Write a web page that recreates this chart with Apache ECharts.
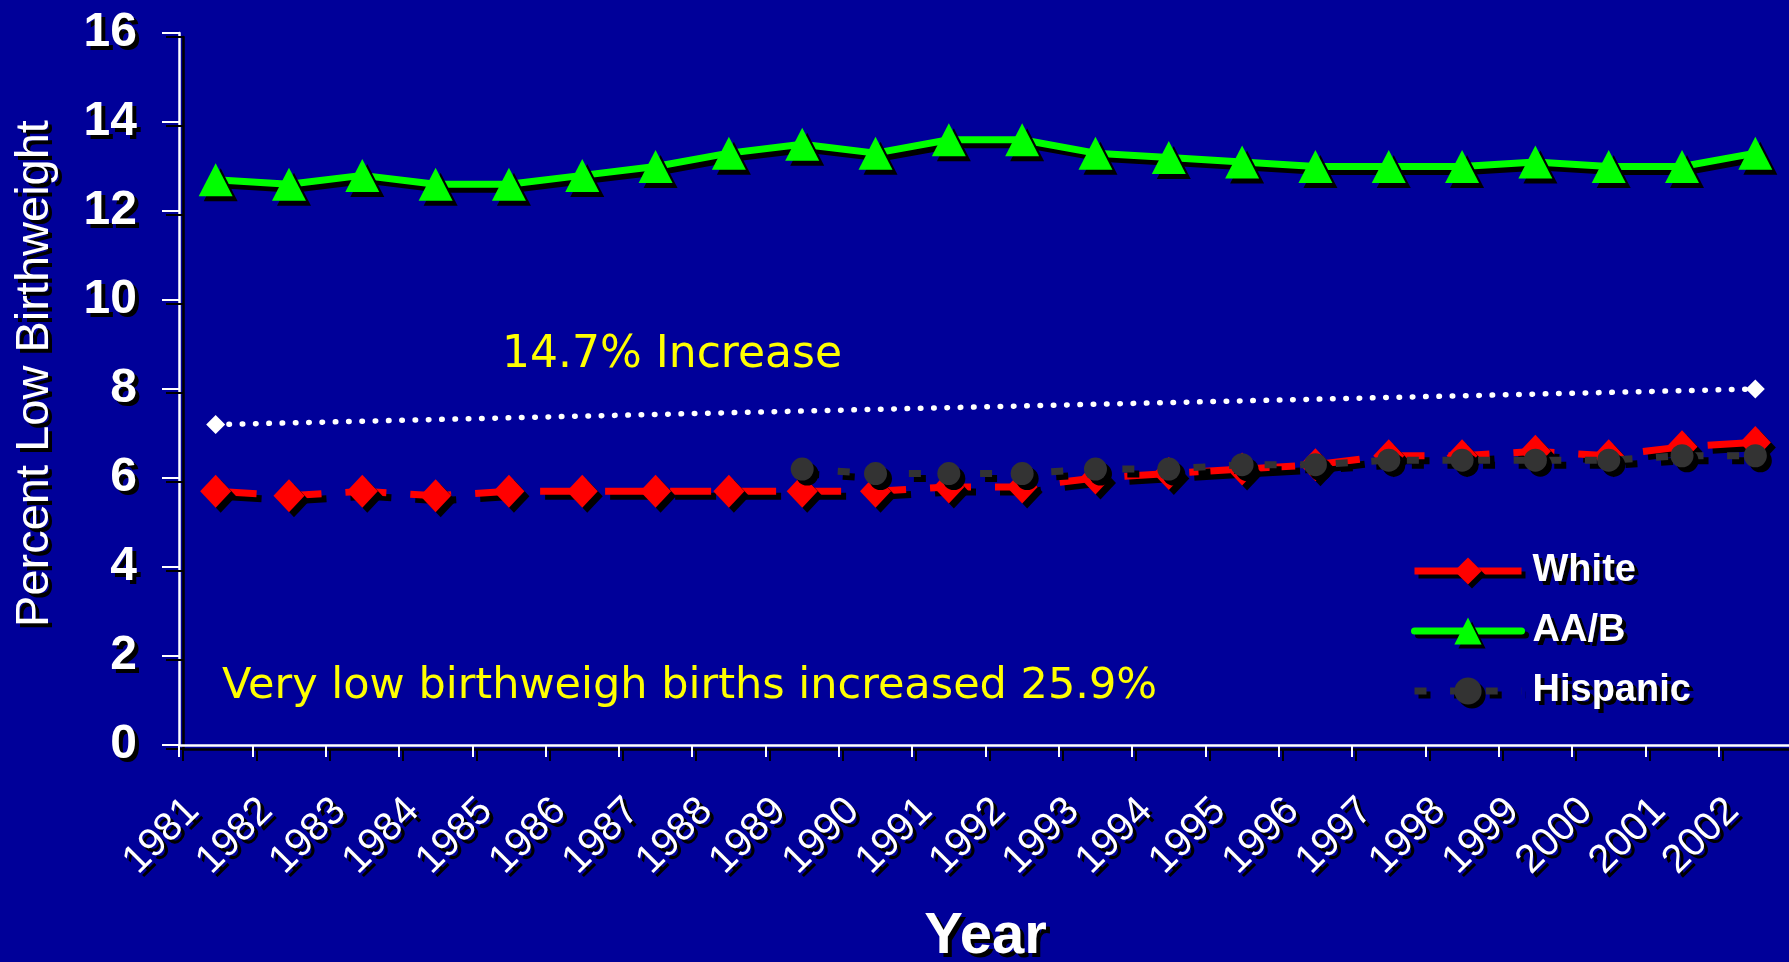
<!DOCTYPE html>
<html>
<head>
<meta charset="utf-8">
<script src="https://cdn.jsdelivr.net/npm/echarts@6/dist/echarts.min.js"></script>
<style>
  html, body { margin: 0; padding: 0; background: #000099; }
  #chart { width: 1789px; height: 962px; }
</style>
</head>
<body>
<div id="chart"></div>
<script>
// Percent of births with low birthweight, by race/ethnicity, 1981-2002
const years = ['1981', '1982', '1983', '1984', '1985', '1986', '1987', '1988', '1989', '1990', '1991',
               '1992', '1993', '1994', '1995', '1996', '1997', '1998', '1999', '2000', '2001', '2002'];
const whiteRate = [5.7, 5.6, 5.7, 5.6, 5.7, 5.7, 5.7, 5.7, 5.7, 5.7, 5.8,
                   5.8, 6.0, 6.1, 6.2, 6.3, 6.5, 6.5, 6.6, 6.5, 6.7, 6.8];
const blackRate = [12.7, 12.6, 12.8, 12.6, 12.6, 12.8, 13.0, 13.3, 13.5, 13.3, 13.6,
                   13.6, 13.3, 13.2, 13.1, 13.0, 13.0, 13.0, 13.1, 13.0, 13.0, 13.3];
const hispanicRate = [null, null, null, null, null, null, null, null, 6.2, 6.1, 6.1,
                      6.1, 6.2, 6.2, 6.3, 6.3, 6.4, 6.4, 6.4, 6.4, 6.5, 6.5];
// overall trend line drawn between its two end years
const trendPoints = [['1981', 7.2], ['2002', 8.0]];
const yMin = 0, yMax = 16, yStep = 2;
const seriesNames = ['White', 'AA/B', 'Hispanic'];
const noteIncrease = '14.7% Increase';
const noteVeryLow = 'Very low birthweigh births increased 25.9%';

const FONT = "'Liberation Sans', Arial, sans-serif";
const NOTE_FONT = "'DejaVu Sans', Verdana, sans-serif";
const shadow = { shadowColor: '#000', shadowBlur: 0, shadowOffsetX: 5, shadowOffsetY: 5 };
const smallShadow = { shadowColor: '#000', shadowBlur: 0, shadowOffsetX: 4, shadowOffsetY: 4 };
const textShadow = { textShadowColor: '#000', textShadowBlur: 0.5, textShadowOffsetX: 4, textShadowOffsetY: 4 };

const chart = echarts.init(document.getElementById('chart'), null, { renderer: 'canvas' });

chart.setOption({
  backgroundColor: '#000099',
  animation: false,
  grid: { left: 179, right: -3, top: 33, bottom: 217, outerBoundsMode: 'none', containLabel: false },
  legend: {
    orient: 'vertical',
    left: 1411,
    top: 552,
    padding: 0,
    itemWidth: 107,
    itemHeight: 34,
    itemGap: 22,
    selectedMode: false,
    data: [
      { name: seriesNames[0], lineStyle: { type: 'solid' } },
      { name: seriesNames[1] },
      { name: seriesNames[2] }
    ],
    lineStyle: { width: 7, ...smallShadow },
    itemStyle: { ...smallShadow },
    textStyle: {
      color: '#fff', fontFamily: FONT, fontWeight: 'bold', fontSize: 38,
      padding: [0, 0, 0, 6], ...textShadow
    }
  },
  xAxis: {
    type: 'category',
    data: years,
    boundaryGap: true,
    name: 'Year',
    nameLocation: 'middle',
    nameGap: 163,
    nameTextStyle: { color: '#fff', fontFamily: FONT, fontWeight: 'bold', fontSize: 58, ...textShadow },
    axisLine: { show: true, lineStyle: { color: '#fff', width: 2.5, ...smallShadow } },
    axisTick: { show: true, inside: false, length: 12, alignWithLabel: false,
                lineStyle: { color: '#fff', width: 2, ...smallShadow } },
    axisLabel: {
      interval: 0, rotate: 45, margin: 37, padding: [0, 32, 0, 0],
      color: '#fff', fontFamily: FONT, fontSize: 40, ...textShadow
    },
    splitLine: { show: false }
  },
  yAxis: {
    type: 'value',
    min: yMin, max: yMax, interval: yStep,
    name: 'Percent Low Birthweight',
    nameLocation: 'middle',
    nameRotate: 90,
    nameGap: 120,
    nameTextStyle: { color: '#fff', fontFamily: FONT, fontSize: 47, padding: [0, 0, 0, 31], ...textShadow },
    axisLine: { show: true, lineStyle: { color: '#fff', width: 2.5, ...smallShadow } },
    axisTick: { show: true, inside: false, length: 17,
                lineStyle: { color: '#fff', width: 2, ...smallShadow } },
    axisLabel: { margin: 42, color: '#fff', fontFamily: FONT, fontWeight: 'bold', fontSize: 48, ...textShadow },
    splitLine: { show: false }
  },
  graphic: [
    { type: 'text', left: 502, top: 333.5,
      style: { text: noteIncrease, fill: '#ffff00', font: `44px ${NOTE_FONT}` } },
    { type: 'text', left: 222, top: 665.5,
      style: { text: noteVeryLow, fill: '#ffff00', font: `43px ${NOTE_FONT}` } }
  ],
  series: [
    {
      name: 'trend',
      type: 'line',
      data: trendPoints,
      symbol: 'diamond',
      symbolSize: 19,
      itemStyle: { color: '#fff' },
      lineStyle: { color: '#fff', width: 5.5, type: [0.5, 12.8], cap: 'round' },
      silent: true,
      z: 2
    },
    {
      name: seriesNames[0],
      type: 'line',
      data: whiteRate,
      symbol: 'diamond',
      symbolSize: [31, 33],
      itemStyle: { color: '#ff0000', ...shadow },
      lineStyle: { color: '#ff0000', width: 7, type: [41, 24], dashOffset: 0, ...shadow },
      z: 3
    },
    {
      name: seriesNames[1],
      type: 'line',
      data: blackRate,
      symbol: 'triangle',
      symbolSize: [34, 33],
      itemStyle: { color: '#00ff00', ...shadow },
      lineStyle: { color: '#00ff00', width: 7, cap: 'round', ...shadow },
      z: 4
    },
    {
      name: seriesNames[2],
      type: 'line',
      data: hispanicRate,
      connectNulls: false,
      symbol: 'circle',
      symbolSize: 23,
      itemStyle: { color: '#333333', ...shadow },
      lineStyle: { color: '#333333', width: 7, type: [12, 23.6], dashOffset: 0, ...shadow },
      z: 5
    }
  ]
});
</script>
</body>
</html>
